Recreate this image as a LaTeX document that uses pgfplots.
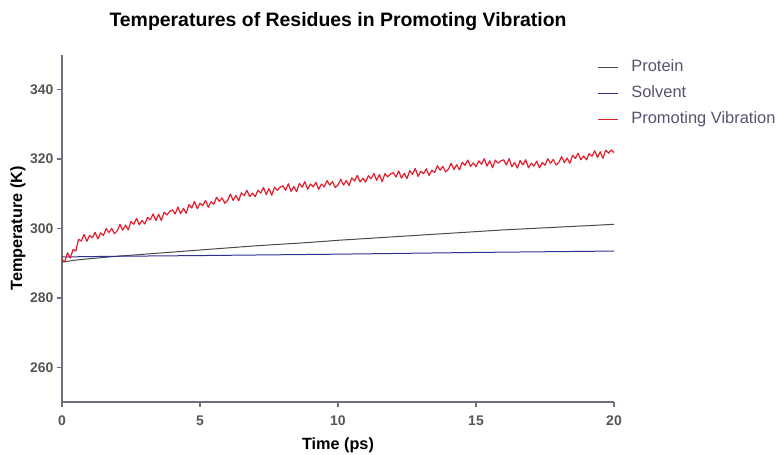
\documentclass[border=0pt]{standalone}
\usepackage{fontspec}
\setmainfont{Liberation Sans}
\usepackage{pgfplots}
\pgfplotsset{compat=1.18}
\definecolor{axgray}{HTML}{6F6E7C}
\definecolor{ticktext}{HTML}{555555}
\definecolor{protcol}{HTML}{4A4A4A}
\definecolor{solvcol}{HTML}{2E3192}
\definecolor{promcol}{HTML}{E31E2C}
\definecolor{legtext}{HTML}{55546E}

\pgfplotstableread{
t T
0.0 290.3
0.5 290.9
1.0 291.3
2.0 292.0
3.0 292.6
4.0 293.2
5.0 293.8
6.0 294.4
7.0 295.0
8.0 295.5
9.0 296.0
10.0 296.6
11.0 297.1
12.0 297.6
13.0 298.1
14.0 298.6
15.0 299.1
16.0 299.6
17.0 300.0
18.0 300.4
19.0 300.8
20.0 301.2
}\proteintab

\pgfplotstableread{
t T
0.0 291.8
1.0 291.9
2.0 292.0
5.0 292.2
10.0 292.6
15.0 293.1
20.0 293.5
}\solventtab

\pgfplotstableread{
t T
0.0 291.1
0.1 290.4
0.2 293.0
0.3 291.5
0.4 293.9
0.5 293.5
0.6 296.9
0.7 296.4
0.8 298.3
0.9 296.3
1.0 298.0
1.1 297.3
1.2 298.9
1.3 297.0
1.4 298.7
1.5 298.0
1.6 300.0
1.7 298.8
1.8 300.0
1.9 298.5
2.0 299.3
2.1 301.2
2.2 299.5
2.3 301.0
2.4 299.6
2.5 302.0
2.6 301.2
2.7 302.9
2.8 301.1
2.9 302.3
3.0 301.3
3.1 303.2
3.2 302.5
3.3 304.2
3.4 302.3
3.5 304.1
3.6 302.3
3.7 304.7
3.8 303.9
3.9 304.9
4.0 305.4
4.1 304.2
4.2 306.2
4.3 304.3
4.4 305.8
4.5 304.4
4.6 306.9
4.7 305.9
4.8 307.8
4.9 305.7
5.0 307.3
5.1 306.6
5.2 308.1
5.3 306.1
5.4 307.7
5.5 307.0
5.6 309.0
5.7 307.8
5.8 308.8
5.9 307.3
6.0 308.1
6.1 309.9
6.2 308.1
6.3 309.5
6.4 308.0
6.5 310.3
6.6 309.5
6.7 311.0
6.8 309.2
6.9 310.2
7.0 309.2
7.1 311.0
7.2 310.2
7.3 311.8
7.4 309.8
7.5 311.5
7.6 309.6
7.7 311.9
7.8 311.0
7.9 311.9
8.0 312.3
8.1 311.0
8.2 312.9
8.3 310.7
8.4 312.1
8.5 310.6
8.6 313.0
8.7 311.9
8.8 313.5
8.9 311.3
9.0 312.8
9.1 312.0
9.2 313.3
9.3 311.3
9.4 312.8
9.5 312.0
9.6 313.8
9.7 312.5
9.8 313.5
9.9 311.8
10.0 312.5
10.1 314.2
10.2 312.5
10.3 313.8
10.4 312.4
10.5 314.6
10.6 313.7
10.7 315.3
10.8 313.4
10.9 314.5
11.0 313.4
11.1 315.2
11.2 314.3
11.3 315.9
11.4 313.9
11.5 315.5
11.6 313.5
11.7 315.8
11.8 314.9
11.9 315.7
12.0 316.1
12.1 314.8
12.2 316.6
12.3 314.5
12.4 315.9
12.5 314.4
12.6 316.7
12.7 315.6
12.8 317.3
12.9 315.0
13.0 316.5
13.1 315.8
13.2 317.2
13.3 315.3
13.4 316.8
13.5 316.1
13.6 318.1
13.7 316.8
13.8 317.9
13.9 316.3
14.0 317.1
14.1 318.8
14.2 317.0
14.3 318.4
14.4 316.9
14.5 319.1
14.6 318.2
14.7 319.7
14.8 317.9
14.9 318.9
15.0 317.8
15.1 319.5
15.2 318.5
15.3 320.1
15.4 318.0
15.5 319.5
15.6 317.5
15.7 319.7
15.8 318.8
15.9 319.5
16.0 319.8
16.1 318.3
16.2 320.1
16.3 317.8
16.4 319.0
16.5 317.4
16.6 319.6
16.7 318.3
16.8 319.8
16.9 317.5
17.0 318.8
17.1 318.0
17.2 319.4
17.3 317.5
17.4 319.0
17.5 318.2
17.6 320.1
17.7 318.8
17.8 319.9
17.9 318.3
18.0 319.0
18.1 320.7
18.2 319.0
18.3 320.3
18.4 318.8
18.5 321.1
18.6 320.2
18.7 321.7
18.8 319.8
18.9 320.9
19.0 319.8
19.1 321.6
19.2 320.8
19.3 322.4
19.4 320.5
19.5 322.1
19.6 320.2
19.7 322.6
19.8 321.7
19.9 322.6
20.0 321.8
}\promotab

\begin{document}
\begin{tikzpicture}
\path[use as bounding box] (0,0) rectangle (783bp,455bp);
\begin{axis}[
  at={(62bp,53bp)}, anchor=south west,
  scale only axis, width=552bp, height=347bp,
  xmin=0, xmax=20, ymin=250, ymax=350,
  axis x line*=bottom, axis y line*=left,
  axis line style={axgray, line width=1.5bp, -},
  xtick={0,5,10,15,20}, ytick={260,280,300,320,340},
  tick align=outside, major tick length=5bp,
  tick style={axgray, line width=1.3bp},
  minor tick num=0,
  /pgf/number format/assume math mode=true,
  tick label style={font=\fontsize{14}{15}\selectfont\bfseries, text=ticktext},
  xticklabel style={yshift=-5bp},
  xlabel={Time (ps)}, ylabel={Temperature (K)},
  label style={font=\fontsize{16.3}{18}\selectfont\bfseries},
  xlabel style={at={(axis description cs:0.5,0)}, anchor=base, yshift=-47bp},
  ylabel style={at={(axis description cs:-0.0797,0.5)}, anchor=center},
  title={Temperatures of Residues in Promoting Vibration},
  title style={font=\fontsize{19.5}{22}\selectfont\bfseries, at={(axis description cs:0.5,1)}, anchor=base, yshift=23bp},
  legend style={at={(axis description cs:1,1)}, anchor=north west, xshift=-20bp, yshift=-2bp,
    draw=none, fill=none, font=\fontsize{16.5}{18}\selectfont,
    nodes={inner sep=0pt, text height=12bp, text depth=4bp}, row sep=10bp,
    /tikz/every odd column/.append style={column sep=13bp}},
  legend cell align=left,
  legend image code/.code={\draw[#1,line width=1.2bp] (0bp,0bp) -- (20bp,0bp);},
]
\addplot[draw=protcol, line width=1bp] table[x=t,y=T] {\proteintab};
\addlegendentry{\textcolor{legtext}{Protein}}
\addplot[draw=solvcol, line width=1bp] table[x=t,y=T] {\solventtab};
\addlegendentry{\textcolor{legtext}{Solvent}}
\addplot[draw=promcol, line width=1.2bp, line join=round] table[x=t,y=T] {\promotab};
\addlegendentry{\textcolor{legtext}{Promoting Vibration}}
\end{axis}
\end{tikzpicture}
\end{document}
